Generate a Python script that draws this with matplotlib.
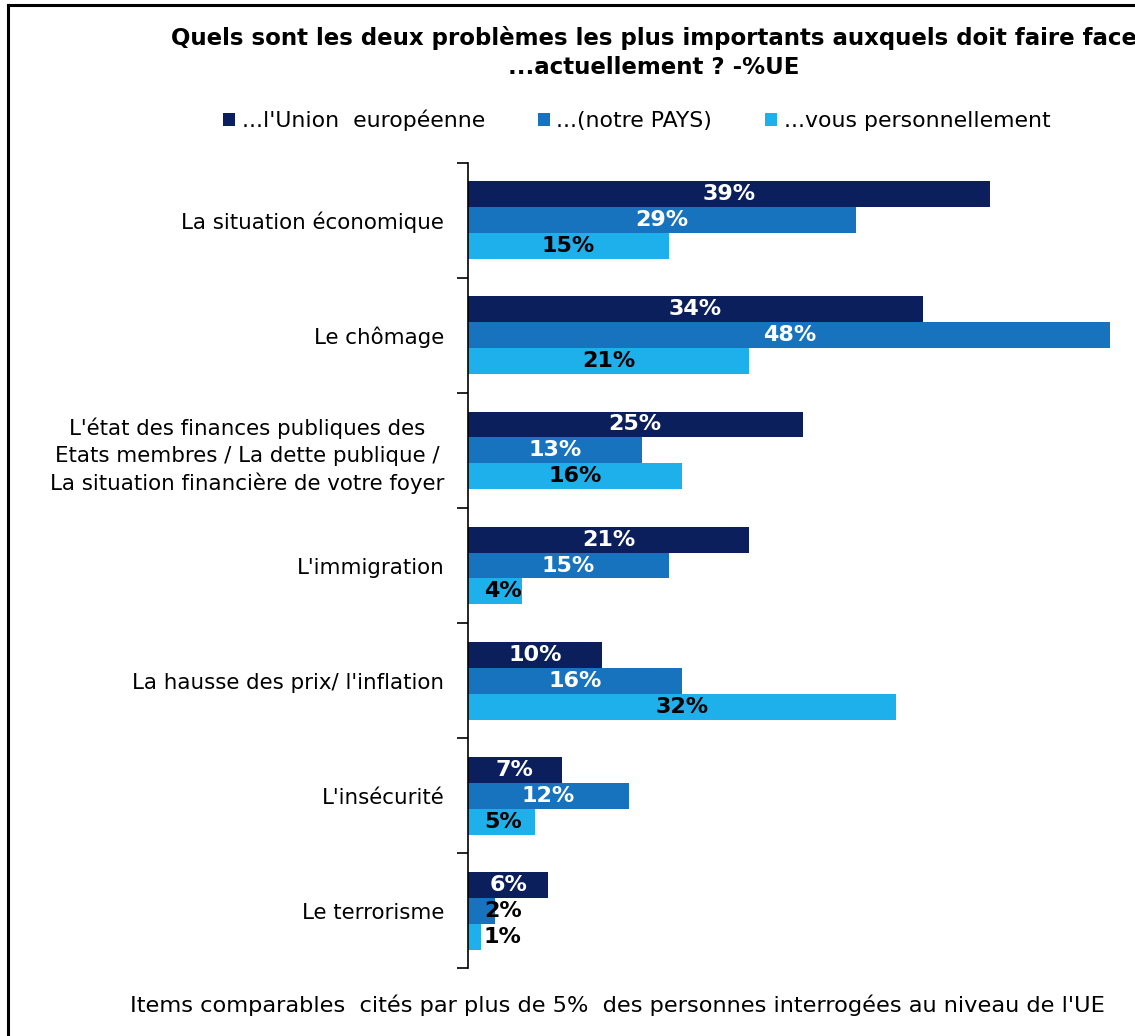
import matplotlib.pyplot as plt
from matplotlib.lines import Line2D
import numpy as np

# Problems and share of answers (% EU) per level
categories = [
    "La situation économique",
    "Le chômage",
    "L'état des finances publiques des\nEtats membres / La dette publique /\nLa situation financière de votre foyer",
    "L'immigration",
    "La hausse des prix/ l'inflation",
    "L'insécurité",
    "Le terrorisme",
]
series_names = ["...l'Union  européenne", "...(notre PAYS)", "...vous personnellement"]
union = [39, 34, 25, 21, 10, 7, 6]
pays = [29, 48, 13, 15, 16, 12, 2]
perso = [15, 21, 16, 4, 32, 5, 1]

colors = ["#0B1F5C", "#1873BE", "#1EB0EA"]
label_colors = ["white", "white", "black"]

plt.rcParams['font.family'] = ['DejaVu Sans']

fig = plt.figure(figsize=(11.35, 10.36), dpi=100)
ax = fig.add_axes([0.4123, 0.0656, 0.572, 0.7771])

y = np.arange(len(categories))
h = 0.226
bars = []
for i, (vals, name) in enumerate(zip([union, pays, perso], series_names)):
    pos = y + (i - 1) * h
    b = ax.barh(pos, vals, height=h, color=colors[i], label=name)
    bars.append(b)
    for p, v in zip(pos, vals):
        col = label_colors[i] if v >= 3 else "black"
        ax.text(max(v / 2, 2.6), p, f"{v}%", ha='center', va='center',
                color=col, fontsize=16, fontweight='bold')

ax.set_ylim(len(categories) - 0.5, -0.5)
ax.set_xlim(0, 48.5)
ax.set_yticks(y)
ax.set_yticklabels(categories, fontsize=15.4, multialignment='center',
                   linespacing=1.4)
ax.tick_params(axis='y', which='major', length=0, pad=17)
ax.set_yticks(np.arange(-0.5, len(categories)), minor=True)
ax.tick_params(axis='y', which='minor', length=8, width=1.2, direction='out')
ax.set_xticks([])
for s in ['top', 'right', 'bottom']:
    ax.spines[s].set_visible(False)
ax.spines['left'].set_linewidth(1.2)

fig.text(0.576, 0.949,
         "Quels sont les deux problèmes les plus importants auxquels doit faire face\n...actuellement ? -%UE",
         ha='center', va='center', fontsize=16.5, fontweight='bold', linespacing=1.35)

fig.legend(handles=bars, loc='center', bbox_to_anchor=(0.561, 0.884), ncol=3,
           frameon=False, fontsize=15.8, handlelength=0.55, handleheight=0.55,
           handletextpad=0.3, columnspacing=2.4)

fig.text(0.544, 0.030,
         "Items comparables  cités par plus de 5%  des personnes interrogées au niveau de l'UE",
         ha='center', va='center', fontsize=16.2)

# frame lines on the left and top of the figure
fig.add_artist(Line2D([0.007, 0.007], [0.0, 0.995], transform=fig.transFigure,
                      color='black', linewidth=2.2))
fig.add_artist(Line2D([0.007, 1.0], [0.995, 0.995], transform=fig.transFigure,
                      color='black', linewidth=2.2))

fig.savefig("out.png", dpi=100)
